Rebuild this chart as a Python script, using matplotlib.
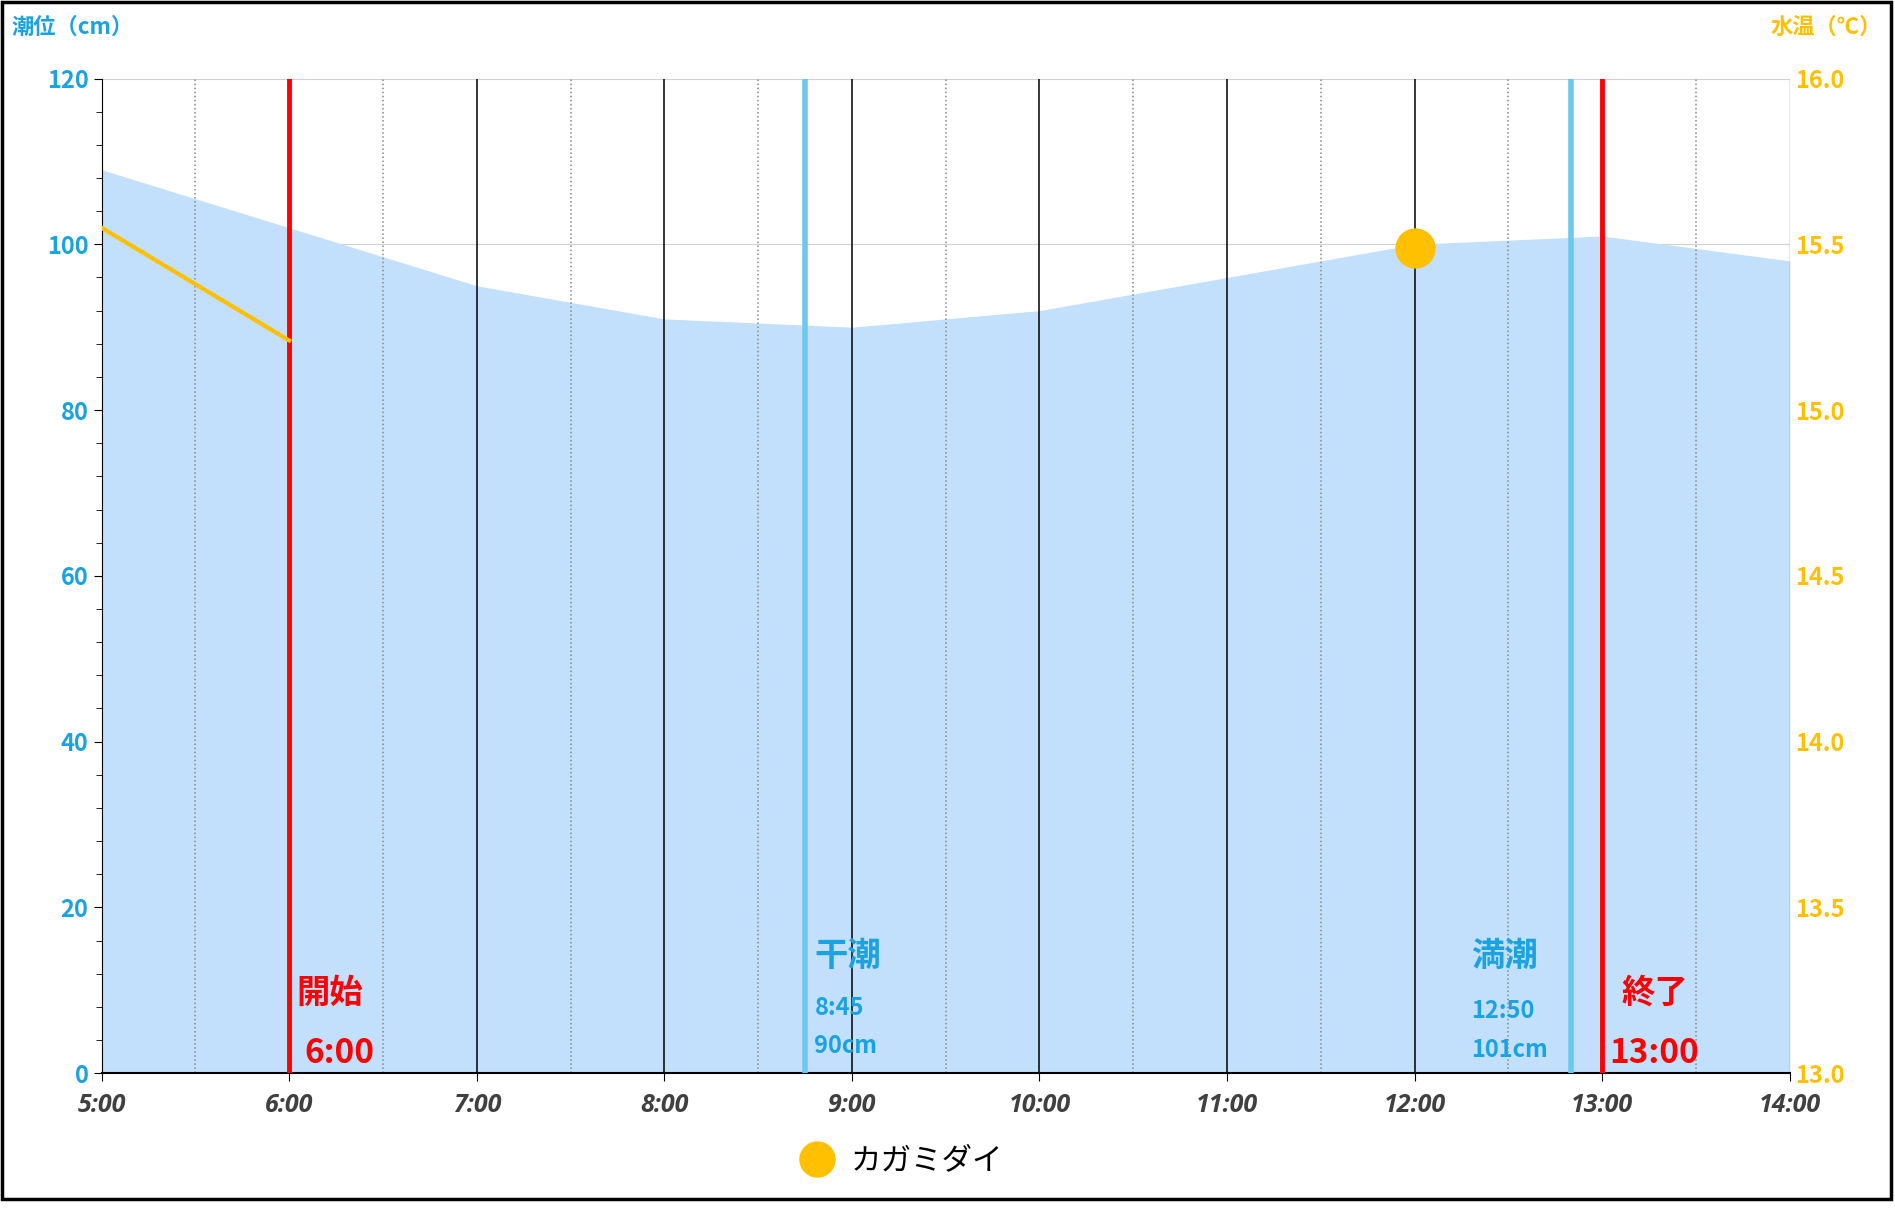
import numpy as np
import matplotlib
matplotlib.use("Agg")
import matplotlib.pyplot as plt
from matplotlib.patches import Rectangle

plt.rcParams['font.family'] = ['Noto Sans CJK JP', 'DejaVu Sans']

# data
hours = [5, 6, 7, 8, 9, 10, 11, 12, 13, 14]
tide_cm = [109, 102, 95, 91, 90, 92, 96, 100, 101, 98]
temp_hours = [5, 6]
temp_c = [15.55, 15.21]
fish_hour = [12.0]
fish_temp = [15.49]
tick_labels = ['5:00', '6:00', '7:00', '8:00', '9:00', '10:00', '11:00', '12:00', '13:00', '14:00']

blue = '#1aa3e0'
gold = '#ffc000'
red = '#ff0000'
lightblue = '#6cc8ef'

fig = plt.figure(figsize=(18.95, 12.23), dpi=100)
fig.patches.append(Rectangle((0.001, 0.02), 0.997, 0.978, transform=fig.transFigure,
                             fill=False, edgecolor='black', linewidth=2.5))
ax = fig.add_axes([0.0536, 0.1225, 0.8909, 0.8133])
ax.fill_between(hours, tide_cm, 0, color='#c2e0fb', lw=0, zorder=1)
ax.set_xlim(5, 14)
ax.set_ylim(0, 120)
for y in range(20, 121, 20):
    ax.axhline(y, color='#d0d0d0', lw=0.8, zorder=0.5)
for h in range(6, 14):
    ax.axvline(h, color='black', lw=1.1, zorder=2)
for h in np.arange(5.5, 14, 1):
    ax.axvline(h, color='#888888', lw=1.1, ls=':', zorder=2)
ax.axvline(14, color='#888888', lw=1, zorder=2)

# event lines
ax.axvline(6, color=red, lw=3.5, zorder=4)
ax.axvline(13, color=red, lw=3.5, zorder=4)
ax.axvline(8.75, color=lightblue, lw=4, zorder=4)
ax.axvline(12 + 50/60, color=lightblue, lw=4, zorder=4)

ax.text(6.04, 8.5, '開始', color=red, fontsize=24, fontweight='bold')
ax.text(6.08, 1.2, '6:00', color=red, fontsize=24, fontweight='bold')
ax.text(13.1, 8.5, '終了', color=red, fontsize=24, fontweight='bold')
ax.text(13.04, 1.2, '13:00', color=red, fontsize=24, fontweight='bold')
ax.text(8.8, 13, '干潮', color=blue, fontsize=24, fontweight='bold')
ax.text(8.8, 7, '8:45', color=blue, fontsize=17, fontweight='bold')
ax.text(8.8, 2.4, '90cm', color=blue, fontsize=17, fontweight='bold')
ax.text(12.3, 13, '満潮', color=blue, fontsize=24, fontweight='bold')
ax.text(12.3, 6.6, '12:50', color=blue, fontsize=17, fontweight='bold')
ax.text(12.3, 2, '101cm', color=blue, fontsize=17, fontweight='bold')

ax.set_xticks(hours)
ax.set_xticklabels(tick_labels, fontsize=18, fontweight='bold', style='italic', color='#404040',
                   family=['Open Sans', 'DejaVu Sans'])
ax.set_yticks(range(0, 121, 20))
ax.set_yticks(range(0, 121, 4), minor=True)
ax.tick_params(axis='y', colors='black', labelcolor=blue, labelsize=17, length=6)
ax.tick_params(axis='y', which='minor', length=4)
ax.tick_params(axis='x', length=6, pad=8)
for lb in ax.get_yticklabels():
    lb.set_fontweight('bold')
for s in ['top', 'right']:
    ax.spines[s].set_visible(False)
ax.spines['bottom'].set_linewidth(1.5)

ax2 = ax.twinx()
ax2.set_ylim(13.0, 16.0)
ax2.plot(temp_hours, temp_c, color=gold, lw=3, zorder=5)
ax2.plot(fish_hour, fish_temp, 'o', color=gold, ms=28, zorder=6, label='カガミダイ')
ax2.set_yticks(np.arange(13.0, 16.01, 0.5))
ax2.set_yticklabels([f'{v:.1f}' for v in np.arange(13.0, 16.01, 0.5)])
ax2.tick_params(axis='y', length=0, labelcolor=gold, labelsize=17)
for lb in ax2.get_yticklabels():
    lb.set_fontweight('bold')
for s in ax2.spines.values():
    s.set_visible(False)

fig.text(0.006, 0.978, '潮位（cm）', color=blue, fontsize=16, fontweight='bold', style='italic', va='center')
fig.text(0.993, 0.978, '水温（℃）', color=gold, fontsize=16, fontweight='bold', style='italic', va='center', ha='right')
ax2.legend(loc='upper center', bbox_to_anchor=(0.47, -0.045), frameon=False, fontsize=22,
           handletextpad=0.1, markerscale=0.9)

fig.savefig('out.png', dpi=100)
